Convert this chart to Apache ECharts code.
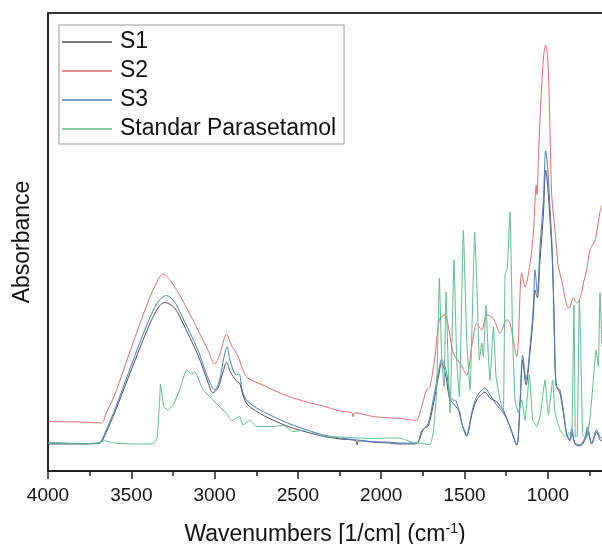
<!DOCTYPE html>
<html>
<head>
<meta charset="utf-8">
<script src="https://cdn.jsdelivr.net/npm/echarts@6/dist/echarts.min.js"></script>
<style>
html,body{margin:0;padding:0;background:#fff;}
#chart{width:602px;height:544px;}
</style>
</head>
<body>
<div id="chart"></div>
<script>
// ---- data ----
var seriesNames = ['S1', 'S2', 'S3', 'Standar Parasetamol'];
var majorTicks = [4000, 3500, 3000, 2500, 2000, 1500, 1000];
var minorTicks = [3750, 3250, 2750, 2250, 1750, 1250, 750];

var s1Wn = [4000,3800,3700,3680,3650,3600,3500,3400,3340,3299,3240,3200,3100,3040,3011,2980,2950,2929,2905,2870,2850,2830,2800,2700,2649,2550,2448,2350,2248,2150,2145,2135,2048,1950,1888,1800,1778,1760,1740,1718,1688,1658,1637,1610,1590,1560,1530,1517,1487,1457,1427,1377,1347,1307,1280,1267,1227,1187,1167,1151,1131,1107,1087,1077,1063,1047,1027,1013,1000,985,975,965,957,950,937,927,907,887,867,857,837,807,777,763,737,707,687,675];
var s1Abs = [0.059,0.059,0.060,0.063,0.085,0.127,0.221,0.312,0.356,0.368,0.356,0.330,0.253,0.194,0.171,0.181,0.216,0.237,0.216,0.197,0.192,0.166,0.144,0.120,0.111,0.096,0.085,0.076,0.070,0.066,0.057,0.066,0.063,0.061,0.059,0.059,0.063,0.085,0.094,0.098,0.144,0.203,0.236,0.203,0.159,0.144,0.129,0.105,0.076,0.122,0.155,0.172,0.159,0.151,0.138,0.133,0.096,0.057,0.144,0.242,0.188,0.260,0.341,0.395,0.378,0.461,0.559,0.657,0.618,0.537,0.478,0.362,0.238,0.186,0.177,0.170,0.127,0.079,0.066,0.085,0.059,0.055,0.068,0.090,0.059,0.085,0.068,0.066];

var s2Wn = [4000,3800,3680,3650,3600,3500,3400,3340,3309,3260,3200,3100,3040,2999,2970,2945,2929,2900,2860,2830,2800,2700,2649,2550,2448,2350,2248,2175,2170,2160,2048,1950,1888,1808,1788,1758,1728,1708,1677,1651,1617,1597,1567,1527,1487,1457,1427,1397,1367,1327,1287,1247,1227,1187,1157,1137,1107,1087,1077,1070,1065,1055,1040,1025,1013,1000,990,977,960,947,937,917,897,877,867,847,827,817,797,787,767,747,717,700,687,675];
var s2Abs = [0.108,0.107,0.105,0.127,0.166,0.269,0.369,0.417,0.430,0.413,0.378,0.308,0.264,0.234,0.253,0.286,0.299,0.275,0.251,0.221,0.203,0.186,0.177,0.162,0.151,0.142,0.131,0.127,0.118,0.127,0.119,0.116,0.115,0.111,0.111,0.140,0.177,0.184,0.250,0.330,0.341,0.315,0.257,0.235,0.210,0.271,0.322,0.308,0.341,0.333,0.301,0.330,0.322,0.250,0.432,0.402,0.453,0.519,0.592,0.624,0.603,0.701,0.821,0.908,0.930,0.897,0.788,0.603,0.537,0.483,0.445,0.417,0.378,0.356,0.358,0.378,0.367,0.369,0.389,0.410,0.439,0.483,0.504,0.537,0.566,0.581];

var s3Wn = [4000,3800,3700,3680,3650,3600,3500,3400,3340,3289,3240,3200,3100,3040,2999,2970,2945,2925,2905,2870,2853,2835,2809,2750,2649,2550,2448,2350,2248,2150,2048,1950,1888,1800,1778,1748,1718,1688,1658,1637,1607,1587,1570,1550,1517,1487,1457,1427,1377,1347,1307,1267,1227,1187,1167,1151,1131,1107,1087,1077,1063,1047,1027,1013,1000,985,975,965,957,950,937,927,907,887,867,857,837,807,777,763,737,707,687,675];
var s3Abs = [0.061,0.060,0.061,0.066,0.090,0.133,0.231,0.325,0.369,0.383,0.369,0.341,0.264,0.203,0.177,0.199,0.247,0.271,0.238,0.210,0.212,0.177,0.155,0.138,0.119,0.103,0.090,0.079,0.072,0.068,0.064,0.063,0.061,0.061,0.064,0.090,0.104,0.155,0.213,0.244,0.213,0.162,0.155,0.153,0.105,0.079,0.127,0.162,0.181,0.166,0.144,0.127,0.097,0.057,0.155,0.253,0.199,0.271,0.359,0.439,0.389,0.490,0.592,0.699,0.657,0.559,0.493,0.373,0.242,0.188,0.181,0.177,0.133,0.083,0.068,0.094,0.061,0.057,0.074,0.096,0.061,0.090,0.074,0.072];

var stdWn = [4000,3900,3800,3700,3660,3600,3500,3400,3369,3345,3330,3325,3315,3305,3279,3249,3210,3169,3139,3119,3069,3009,2969,2929,2899,2849,2829,2789,2749,2649,2589,2529,2448,2349,2248,2048,1950,1888,1808,1768,1708,1688,1668,1651,1637,1623,1611,1597,1587,1563,1547,1531,1507,1487,1467,1439,1423,1411,1397,1387,1371,1357,1347,1327,1311,1287,1267,1257,1243,1227,1211,1197,1177,1157,1137,1111,1091,1067,1047,1017,997,971,957,927,897,877,857,843,835,823,811,803,791,767,747,727,711,697,687,675];
var stdAbs = [0.062,0.061,0.059,0.061,0.066,0.061,0.059,0.059,0.060,0.072,0.155,0.190,0.166,0.140,0.133,0.144,0.177,0.221,0.212,0.217,0.177,0.155,0.140,0.126,0.110,0.119,0.100,0.111,0.097,0.097,0.100,0.086,0.090,0.075,0.074,0.071,0.072,0.072,0.062,0.061,0.057,0.083,0.170,0.421,0.242,0.184,0.391,0.214,0.127,0.461,0.242,0.162,0.526,0.286,0.177,0.522,0.373,0.242,0.279,0.250,0.362,0.250,0.199,0.315,0.206,0.155,0.127,0.428,0.443,0.566,0.286,0.155,0.127,0.155,0.111,0.210,0.111,0.097,0.119,0.199,0.122,0.199,0.127,0.090,0.076,0.081,0.074,0.362,0.074,0.076,0.373,0.279,0.079,0.072,0.116,0.199,0.264,0.227,0.389,0.271];

// ---- build chart ----
function pairs(xs, ys) {
  var out = [];
  for (var i = 0; i < xs.length; i++) out.push([xs[i], ys[i]]);
  return out;
}
var colors = ['#4b4f5e', '#e36b6b', '#4a7cc4', '#5fba8c'];
var smoothness = [0.3, 0.3, 0.3, 0.1];
var seriesData = [pairs(s1Wn, s1Abs), pairs(s2Wn, s2Abs), pairs(s3Wn, s3Abs), pairs(stdWn, stdAbs)];
var drawOrder = [3, 1, 2, 0];
var FONT = 'Liberation Sans, Arial, sans-serif';

var chart = echarts.init(document.getElementById('chart'), null, {renderer: 'canvas'});
var xMin = 675, xMax = 4000;
var option = {
  animation: false,
  backgroundColor: '#ffffff',
  color: colors,
  grid: {left: 48, right: 0, top: 13, bottom: 73, containLabel: false, outerBoundsMode: 'none'},
  legend: {
    orient: 'vertical',
    left: 59, top: 25,
    padding: [5, 8, 3, 3],
    itemGap: 5,
    itemWidth: 50, itemHeight: 1.5,
    icon: 'rect',
    borderColor: '#9a9a9a', borderWidth: 1,
    textStyle: {fontFamily: FONT, fontSize: 23, color: '#111', lineHeight: 24, padding: [0, 0, 0, 3]},
    data: seriesNames
  },
  xAxis: [
    {
      type: 'value', min: xMin, max: xMax, inverse: true, position: 'bottom',
      axisLine: {show: true, onZero: false, lineStyle: {color: '#222', width: 2}},
      axisTick: {show: true, inside: false, length: 8, customValues: majorTicks, lineStyle: {color: '#222', width: 1.5}},
      axisLabel: {customValues: majorTicks, margin: 15, fontFamily: FONT, fontSize: 19, color: '#111',
        formatter: function (v) { return String(v); }},
      splitLine: {show: false},
      name: '{a|Wavenumbers [1/cm] (cm}{s|-1}{a|)}',
      nameLocation: 'middle', nameGap: 51,
      nameTextStyle: {
        rich: {
          a: {fontFamily: FONT, fontSize: 23, color: '#111'},
          s: {fontFamily: FONT, fontSize: 14, color: '#111', padding: [0, 0, 12, 0]}
        }
      }
    },
    {
      type: 'value', min: xMin, max: xMax, inverse: true, position: 'bottom',
      axisLine: {show: false, onZero: false},
      axisTick: {show: true, inside: false, length: 5, customValues: minorTicks, lineStyle: {color: '#222', width: 1.5}},
      axisLabel: {show: false},
      splitLine: {show: false}
    },
    {
      type: 'value', min: xMin, max: xMax, inverse: true, position: 'top',
      axisLine: {show: true, onZero: false, lineStyle: {color: '#333', width: 2}},
      axisTick: {show: false}, axisLabel: {show: false}, splitLine: {show: false}
    }
  ],
  yAxis: {
    type: 'value', min: 0, max: 1,
    axisLine: {show: true, onZero: false, lineStyle: {color: '#222', width: 2}},
    axisTick: {show: false}, axisLabel: {show: false}, splitLine: {show: false},
    name: 'Absorbance', nameLocation: 'middle', nameGap: 14,
    nameTextStyle: {fontFamily: FONT, fontSize: 23, color: '#111'}
  },
  series: drawOrder.map(function (i) {
    return {
      name: seriesNames[i], type: 'line', xAxisIndex: 0,
      data: seriesData[i], showSymbol: false, symbol: 'none',
      smooth: smoothness[i],
      lineStyle: {width: 1, color: colors[i]},
      itemStyle: {color: colors[i]},
      z: 2 + (3 - drawOrder.indexOf(i))
    };
  })
};
chart.setOption(option);
</script>
</body>
</html>
